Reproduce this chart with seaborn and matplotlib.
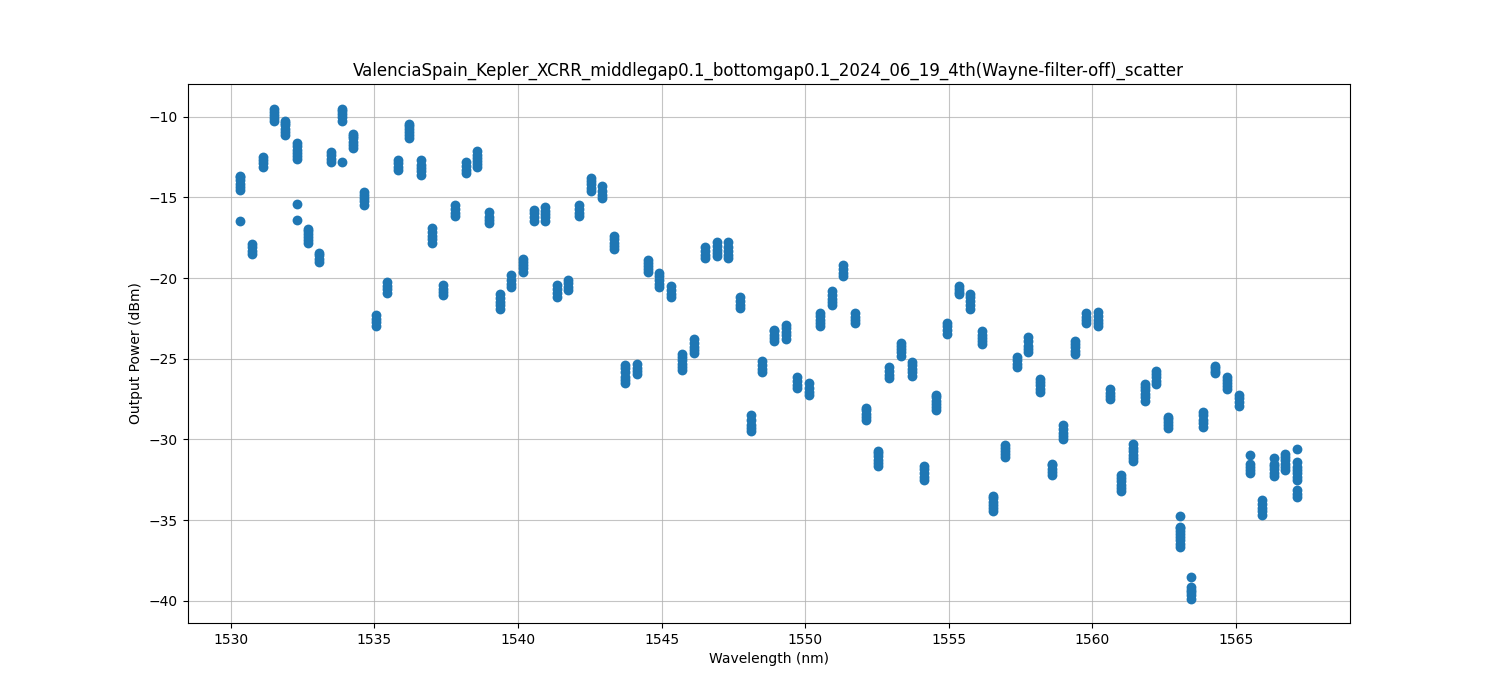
import numpy as np
import matplotlib
matplotlib.use('Agg')
import matplotlib.pyplot as plt
import pandas as pd
import seaborn as sns

# チャネル波長 [nm]（50GHzグリッド）
wavelengths = [
    1530.33, 1530.72, 1531.12, 1531.51, 1531.90, 1532.29, 1532.68, 1533.07,
    1533.47, 1533.86, 1534.25, 1534.64, 1535.04, 1535.43, 1535.82, 1536.22,
    1536.61, 1537.00, 1537.40, 1537.79, 1538.19, 1538.58, 1538.98, 1539.37,
    1539.77, 1540.16, 1540.56, 1540.95, 1541.35, 1541.75, 1542.14, 1542.54,
    1542.94, 1543.33, 1543.73, 1544.13, 1544.53, 1544.92, 1545.32, 1545.72,
    1546.12, 1546.52, 1546.92, 1547.32, 1547.72, 1548.11, 1548.51, 1548.91,
    1549.32, 1549.72, 1550.12, 1550.52, 1550.92, 1551.32, 1551.72, 1552.12,
    1552.52, 1552.93, 1553.33, 1553.73, 1554.13, 1554.54, 1554.94, 1555.34,
    1555.75, 1556.15, 1556.55, 1556.96, 1557.36, 1557.77, 1558.17, 1558.58,
    1558.98, 1559.39, 1559.79, 1560.20, 1560.61, 1561.01, 1561.42, 1561.83,
    1562.23, 1562.64, 1563.05, 1563.45, 1563.86, 1564.27, 1564.68, 1565.09,
    1565.50, 1565.90, 1566.31, 1566.72, 1567.13]

# 各チャネルの出力パワー測定値 [dBm]
power_readings = [
    [-16.45, -14.55, -14.35, -14.15, -13.95, -13.75, -13.65],
    [-18.5, -18.3, -18.1, -17.9],
    [-13.1, -12.9, -12.7, -12.5],
    [-10.3, -10.1, -9.9, -9.7, -9.5],
    [-11.15, -10.95, -10.75, -10.55, -10.4, -10.25],
    [-16.4, -15.4, -12.65, -12.45, -12.25, -12.05, -11.85, -11.65],
    [-17.85, -17.65, -17.45, -17.25, -17.1, -16.95],
    [-19.0, -18.8, -18.6, -18.45],
    [-12.8, -12.6, -12.4, -12.2],
    [-12.8, -10.25, -10.05, -9.85, -9.65, -9.5],
    [-11.95, -11.75, -11.55, -11.35, -11.2, -11.05],
    [-15.45, -15.25, -15.05, -14.85, -14.65],
    [-22.95, -22.75, -22.55, -22.3],
    [-20.9, -20.7, -20.5, -20.25],
    [-13.3, -13.1, -12.9, -12.7],
    [-11.35, -11.15, -10.95, -10.8, -10.6, -10.45],
    [-13.6, -13.4, -13.2, -13.0, -12.7],
    [-17.8, -17.6, -17.4, -17.15, -16.9],
    [-21.05, -20.85, -20.65, -20.45],
    [-16.15, -15.95, -15.75, -15.45],
    [-13.5, -13.3, -13.05, -12.8],
    [-13.15, -12.95, -12.75, -12.55, -12.35, -12.15],
    [-16.6, -16.4, -16.2, -15.9],
    [-21.9, -21.7, -21.5, -21.25, -21.0],
    [-20.55, -20.35, -20.1, -19.8],
    [-19.6, -19.4, -19.2, -19.0, -18.8],
    [-16.45, -16.25, -16.0, -15.8],
    [-16.45, -16.25, -16.05, -15.85, -15.6],
    [-21.15, -20.95, -20.7, -20.45],
    [-20.75, -20.55, -20.3, -20.1],
    [-16.15, -15.95, -15.7, -15.45],
    [-14.6, -14.4, -14.2, -14.0, -13.8],
    [-15.05, -14.85, -14.6, -14.3],
    [-18.2, -18.0, -17.8, -17.6, -17.4],
    [-26.5, -26.3, -26.1, -25.85, -25.6, -25.4],
    [-25.95, -25.75, -25.55, -25.3],
    [-19.65, -19.45, -19.25, -19.05, -18.9],
    [-20.55, -20.35, -20.15, -19.9, -19.7],
    [-21.2, -21.0, -20.75, -20.5],
    [-25.7, -25.5, -25.3, -25.1, -24.9, -24.7],
    [-24.65, -24.45, -24.25, -24.0, -23.8],
    [-18.75, -18.55, -18.35, -18.1],
    [-18.65, -18.45, -18.25, -18.0, -17.75],
    [-18.75, -18.55, -18.35, -18.1, -17.75],
    [-21.85, -21.65, -21.4, -21.15],
    [-29.5, -29.3, -29.1, -28.8, -28.5],
    [-25.85, -25.65, -25.4, -25.15],
    [-23.9, -23.7, -23.5, -23.3, -23.2],
    [-23.75, -23.55, -23.35, -23.1, -22.9],
    [-26.8, -26.6, -26.35, -26.1],
    [-27.25, -27.05, -26.8, -26.5],
    [-23.0, -22.8, -22.6, -22.35, -22.15],
    [-21.7, -21.5, -21.3, -21.05, -20.8],
    [-19.9, -19.7, -19.45, -19.2],
    [-22.8, -22.6, -22.4, -22.15],
    [-28.8, -28.6, -28.4, -28.2, -28.05],
    [-31.65, -31.45, -31.25, -31.05, -30.85, -30.7],
    [-26.2, -26.0, -25.75, -25.5],
    [-24.8, -24.6, -24.4, -24.2, -24.0],
    [-26.05, -25.85, -25.65, -25.4, -25.2],
    [-32.5, -32.3, -32.1, -31.85, -31.65],
    [-28.2, -28.0, -27.8, -27.6, -27.4, -27.25],
    [-23.45, -23.25, -23.0, -22.8],
    [-21.0, -20.85, -20.65, -20.5],
    [-21.9, -21.7, -21.45, -21.2, -21.0],
    [-24.1, -23.9, -23.7, -23.5, -23.3],
    [-34.45, -34.25, -34.05, -33.85, -33.65, -33.5],
    [-31.1, -30.9, -30.7, -30.5, -30.35],
    [-25.5, -25.3, -25.1, -24.9],
    [-24.6, -24.4, -24.2, -23.9, -23.65],
    [-27.05, -26.85, -26.65, -26.45, -26.25],
    [-32.2, -32.0, -31.8, -31.6, -31.5],
    [-30.0, -29.8, -29.6, -29.35, -29.1],
    [-24.7, -24.5, -24.3, -24.1, -23.9],
    [-22.8, -22.6, -22.4, -22.15],
    [-23.0, -22.8, -22.6, -22.35, -22.1],
    [-27.5, -27.3, -27.1, -26.9],
    [-33.2, -33.0, -32.8, -32.6, -32.4, -32.2],
    [-31.35, -31.15, -30.95, -30.7, -30.5, -30.3],
    [-27.6, -27.4, -27.2, -26.95, -26.75, -26.55],
    [-26.55, -26.35, -26.15, -25.95, -25.75],
    [-29.3, -29.1, -28.9, -28.75, -28.6],
    [-36.65, -36.45, -36.25, -36.05, -35.85, -35.65, -35.5, -35.4, -34.75],
    [-39.85, -39.65, -39.45, -39.3, -39.15, -38.5],
    [-29.2, -29.0, -28.8, -28.5, -28.3],
    [-25.9, -25.75, -25.55, -25.45],
    [-26.9, -26.7, -26.5, -26.3, -26.1],
    [-27.9, -27.7, -27.45, -27.25],
    [-32.1, -31.9, -31.7, -31.5, -30.95],
    [-34.65, -34.45, -34.25, -34.0, -33.75],
    [-32.25, -32.05, -31.85, -31.65, -31.5, -31.15],
    [-31.9, -31.7, -31.5, -31.3, -31.1, -30.9],
    [-33.55, -33.35, -33.15, -32.5, -32.3, -32.1, -31.9, -31.7, -31.4, -30.6]]

title = 'ValenciaSpain_Kepler_XCRR_middlegap0.1_bottomgap0.1_2024_06_19_4th(Wayne-filter-off)_scatter'

# 縦持ちのデータフレームに変換
rows = []
for wl, readings in zip(wavelengths, power_readings):
    for p in readings:
        rows.append((wl, p))
df = pd.DataFrame(rows, columns=['wavelength', 'power'])

fig, ax = plt.subplots(figsize=(15, 7), dpi=100)
sns.scatterplot(
    data=df, x='wavelength', y='power', ax=ax,
    color='#1f77b4', s=50, linewidth=0, alpha=1.0)

ax.set_title(title)
ax.set_xlabel('Wavelength (nm)')
ax.set_ylabel('Output Power (dBm)')
ax.grid(True, alpha=0.75)
ax.set_axisbelow(True)

plt.savefig('out.png', dpi=100)
